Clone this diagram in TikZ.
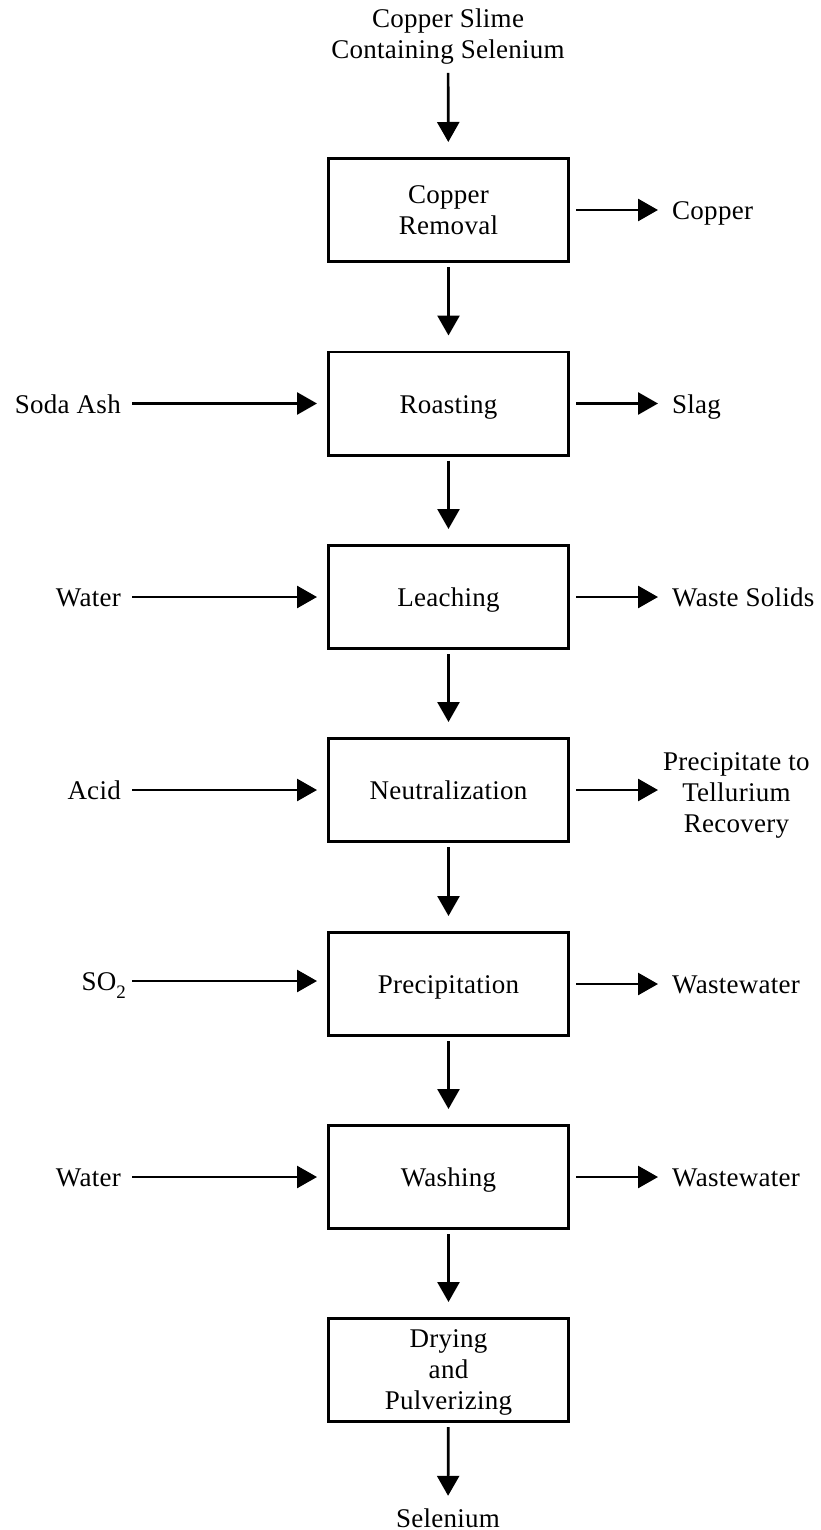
\documentclass[tikz,border=0pt]{standalone}
\usepackage{fontspec}
\setmainfont{Liberation Serif}[LetterSpace=1]
\usetikzlibrary{arrows.meta}
\begin{document}
\begin{tikzpicture}[x=1pt,y=-1pt,
  every node/.style={font=\fontsize{27}{31}\selectfont, inner sep=0pt, align=center},
  stage/.style={draw, line width=2.7pt, minimum width=240.3pt, minimum height=103.3pt},
  oneline/.style={text height=19pt, text depth=0pt},
  flow/.style={line width=2.7pt, -{Triangle[length=20pt,width=22pt]}},
  mainflow/.style={flow, shorten <=4pt, shorten >=15pt},
  feedflow/.style={flow, shorten <=11pt, shorten >=10pt},
  exitflow/.style={flow, shorten <=6pt, shorten >=14pt},
]
\useasboundingbox (0,0) rectangle (820,1530);

% process stages
\node[stage] (b1) at (448.5,210) {Copper\\Removal};
\node[stage, oneline] (b2) at (448.5,403.5) {Roasting};
\node[stage, oneline] (b3) at (448.5,597) {Leaching};
\node[stage, oneline] (b4) at (448.5,790) {Neutralization};
\node[stage, oneline] (b5) at (448.5,984) {Precipitation};
\node[stage, oneline] (b6) at (448.5,1177) {Washing};
\node[stage, text depth=0pt] (b7) at (448.5,1370) {Drying\\and\\Pulverizing};

% raw material and product
\node (src) at (448,37) {Copper Slime\\Containing Selenium};
\node[oneline] (se) at (448,1517.5) {Selenium};

% reagents fed from the left
\node[oneline, anchor=east] (soda) at (121,403.5) {Soda Ash};
\node[oneline, anchor=east] (wat1) at (121,597) {Water};
\node[oneline, anchor=east] (acid) at (121,790) {Acid};
\node[oneline, anchor=east] (so2) at (126,981) {SO\raisebox{-8pt}{\fontsize{19}{19}\selectfont 2}};
\node[oneline, anchor=east] (wat2) at (121,1177) {Water};

% streams leaving to the right
\node[oneline, anchor=west] (cu) at (672,210) {Copper};
\node[oneline, anchor=west] (slag) at (672,403.5) {Slag};
\node[oneline, anchor=west] (waste) at (672,597) {Waste Solids};
\node[anchor=west] (te) at (663,795) {Precipitate to\\Tellurium\\Recovery};
\node[oneline, anchor=west] (ww1) at (672,984) {Wastewater};
\node[oneline, anchor=west] (ww2) at (672,1177) {Wastewater};

% main flow
\draw[flow, shorten <=8pt, shorten >=15pt] (src) -- (b1);
\draw[mainflow] (b1) -- (b2);
\draw[mainflow] (b2) -- (b3);
\draw[mainflow] (b3) -- (b4);
\draw[mainflow] (b4) -- (b5);
\draw[mainflow] (b5) -- (b6);
\draw[mainflow] (b6) -- (b7);
\draw[flow, shorten <=4pt, shorten >=12pt] (b7) -- (se);

% inputs
\draw[feedflow] (soda) -- (b2);
\draw[feedflow] (wat1) -- (b3);
\draw[feedflow] (acid) -- (b4);
\draw[feedflow, shorten <=6pt] (so2.east) -- (so2.east -| b5.west);
\draw[feedflow] (wat2) -- (b6);

% outputs
\draw[exitflow] (b1) -- (cu);
\draw[exitflow] (b2) -- (slag);
\draw[exitflow] (b3) -- (waste);
\draw[exitflow, shorten >=5pt] (b4.east) -- (b4.east -| te.west);
\draw[exitflow] (b5) -- (ww1);
\draw[exitflow] (b6) -- (ww2);
\end{tikzpicture}
\end{document}
